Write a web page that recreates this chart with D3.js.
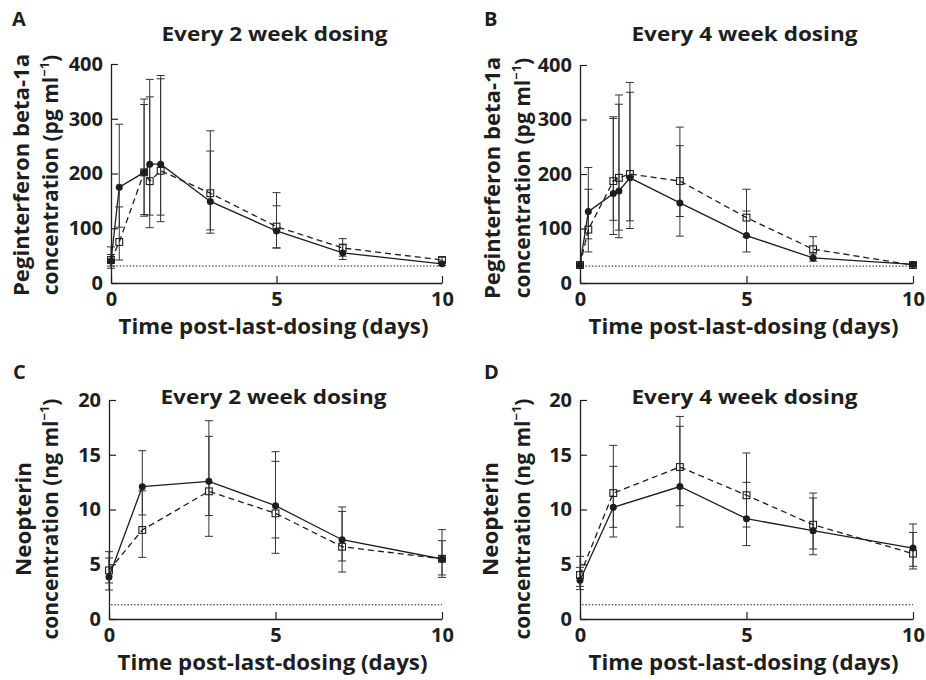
<!DOCTYPE html>
<html>
<head>
<meta charset="utf-8">
<script src="https://cdn.jsdelivr.net/npm/d3@7"></script>
<style>
  body { margin: 0; background: #fff; }
  svg { font-family: "Open Sans", sans-serif; font-weight: 700; }
</style>
</head>
<body>
<svg id="chart"></svg>
<script>
// time points (days after last dose)
const timesPeg = [0, 0.25, 1, 1.17, 1.5, 3, 5, 7, 10];
const timesNeo = [0, 1, 3, 5, 7, 10];

// A: peginterferon, every 2 weeks
const aSolidMean = [40, 175, 202, 217, 217, 149, 95, 55, 35];
const aSolidLow  = [31, 102, 122, 124, 124, 91, 64, 43, 32];
const aSolidHigh = [52, 290, 336, 372, 379, 241, 141, 71, 38];
const aDashMean  = [42, 75, 202, 186, 205, 164, 103, 64, 42];
const aDashLow   = [27, 42, 125, 101, 112, 97, 64, 49, 37];
const aDashHigh  = [66, 139, 326, 340, 373, 278, 165, 81, 47];

// B: peginterferon, every 4 weeks
const bSolidMean = [33, 131, 164, 169, 193, 147, 87, 46, 34];
const bSolidLow  = [30, 81, 89, 83, 100, 86, 57, 40, 31];
const bSolidHigh = [36, 212, 302, 345, 350, 252, 132, 53, 37];
const bDashMean  = [33, 98, 187, 193, 200, 187, 120, 62, 33];
const bDashLow   = [30, 57, 115, 97, 114, 122, 84, 45, 30];
const bDashHigh  = [36, 172, 305, 328, 368, 286, 172, 85, 37];

// C: neopterin, every 2 weeks
const cSolidMean = [3.84, 12.08, 12.57, 10.35, 7.24, 5.48];
const cSolidLow  = [2.65, 9.5, 9.45, 7.4, 5.3, 4.02];
const cSolidHigh = [5.57, 15.37, 16.68, 14.4, 9.83, 7.15];
const cDashMean  = [4.44, 8.13, 11.66, 9.65, 6.6, 5.5];
const cDashLow   = [3.29, 5.63, 7.55, 6.0, 4.29, 3.8];
const cDashHigh  = [6.15, 11.7, 18.11, 15.28, 10.23, 8.16];

// D: neopterin, every 4 weeks
const dSolidMean = [3.53, 10.2, 12.1, 9.16, 8.07, 6.48];
const dSolidLow  = [2.68, 7.49, 8.4, 6.7, 5.87, 4.81];
const dSolidHigh = [4.72, 13.94, 17.6, 12.48, 11.05, 8.68];
const dDashMean  = [4.02, 11.5, 13.88, 11.3, 8.61, 5.97];
const dDashLow   = [2.98, 8.37, 10.35, 8.4, 6.39, 4.57];
const dDashHigh  = [5.72, 15.86, 18.5, 15.16, 11.5, 7.9];

// lower limits of quantification (dotted lines)
const pegLloq = 31;
const neoLloq = 1.3;

const xTicks = [0, 5, 10];
const pegTicks = [0, 100, 200, 300, 400];
const neoTicks = [0, 5, 10, 15, 20];

const titles = ["Every 2 week dosing", "Every 4 week dosing"];
const xLabel = "Time post-last-dosing (days)";

const svg = d3.select("#chart").attr("width", 926).attr("height", 680);

function series(t, mean, lo, hi) {
  return t.map((d, i) => ({ t: d, m: mean[i], lo: lo[i], hi: hi[i] }));
}

const panels = [
  { letter: "A", title: titles[0], x0: 111, x1: 442, y0: 64, y1: 283, yMax: 400, ticks: pegTicks,
    lloq: pegLloq, lab1: "Peginterferon beta-1a", w1: 242, lab2: "(pg ml", lx: [29, 58], ly: 175,
    letterPos: [12, 26], titleY: 41,
    solid: series(timesPeg, aSolidMean, aSolidLow, aSolidHigh),
    dash: series(timesPeg, aDashMean, aDashLow, aDashHigh) },
  { letter: "B", title: titles[1], x0: 580, x1: 913, y0: 65, y1: 283, yMax: 400, ticks: pegTicks,
    lloq: pegLloq, lab1: "Peginterferon beta-1a", w1: 242, lab2: "(pg ml", lx: [500, 530], ly: 178,
    letterPos: [484, 26], titleY: 41,
    solid: series(timesPeg, bSolidMean, bSolidLow, bSolidHigh),
    dash: series(timesPeg, bDashMean, bDashLow, bDashHigh) },
  { letter: "C", title: titles[0], x0: 109, x1: 442, y0: 400, y1: 619, yMax: 20, ticks: neoTicks,
    lloq: neoLloq, lab1: "Neopterin", w1: 114, lab2: "(ng ml", lx: [31, 58], ly: 519,
    letterPos: [13, 379], titleY: 404,
    solid: series(timesNeo, cSolidMean, cSolidLow, cSolidHigh),
    dash: series(timesNeo, cDashMean, cDashLow, cDashHigh) },
  { letter: "D", title: titles[1], x0: 580, x1: 913, y0: 400, y1: 619, yMax: 20, ticks: neoTicks,
    lloq: neoLloq, lab1: "Neopterin", w1: 114, lab2: "(ng ml", lx: [498, 530], ly: 519,
    letterPos: [484, 379], titleY: 404,
    solid: series(timesNeo, dSolidMean, dSolidLow, dSolidHigh),
    dash: series(timesNeo, dDashMean, dDashLow, dDashHigh) }
];

const ink = "#1e1e1e";

panels.forEach(p => {
  const x = d3.scaleLinear().domain([0, 10]).range([p.x0, p.x1]);
  const y = d3.scaleLinear().domain([0, p.yMax]).range([p.y1, p.y0]);
  const g = svg.append("g");

  // letter + title
  g.append("text").attr("x", p.letterPos[0]).attr("y", p.letterPos[1])
    .attr("font-size", 20).attr("fill", ink).text(p.letter);
  g.append("text").attr("x", (p.x0 + p.x1) / 2 - 2).attr("y", p.titleY)
    .attr("text-anchor", "middle").attr("font-size", 20).attr("fill", ink)
    .attr("textLength", 226).attr("lengthAdjust", "spacingAndGlyphs").text(p.title);

  // axes, ticks point inwards
  const yAxis = d3.axisLeft(y).tickValues(p.ticks).tickSizeInner(-7).tickSizeOuter(0).tickPadding(8);
  const xAxis = d3.axisBottom(x).tickValues(xTicks).tickSizeInner(-7).tickSizeOuter(0).tickPadding(9);

  const ya = g.append("g").attr("transform", `translate(${p.x0},0)`).call(yAxis);
  const xa = g.append("g").attr("transform", `translate(0,${p.y1})`).call(xAxis);
  [ya, xa].forEach(a => {
    a.select(".domain").attr("stroke", ink).attr("stroke-width", 1.3);
    a.selectAll(".tick line").attr("stroke", ink).attr("stroke-width", 1.2);
    a.selectAll(".tick text").attr("font-size", 20).attr("fill", ink)
      .attr("font-family", "'Open Sans', sans-serif").attr("font-weight", 700);
  });

  // axis titles
  g.append("text").attr("x", (p.x0 + p.x1) / 2 - 3).attr("y", p.y1 + 51)
    .attr("text-anchor", "middle").attr("font-size", 22).attr("fill", ink)
    .attr("textLength", 310).attr("lengthAdjust", "spacingAndGlyphs").text(xLabel);

  g.append("text").attr("transform", `translate(${p.lx[0]},${p.ly}) rotate(-90)`)
    .attr("text-anchor", "middle").attr("font-size", 21).attr("fill", ink)
    .attr("textLength", p.w1).attr("lengthAdjust", "spacingAndGlyphs").text(p.lab1);
  const t2 = g.append("text").attr("transform", `translate(${p.lx[1]},${p.ly}) rotate(-90)`)
    .attr("text-anchor", "middle").attr("font-size", 21).attr("fill", ink);
  t2.append("tspan").text("concentration " + p.lab2);
  t2.append("tspan").attr("font-size", 13).attr("dy", -9).text("\u22121");
  t2.append("tspan").attr("dy", 9).text(")");

  // dotted LLOQ line
  g.append("line")
    .attr("x1", x(0) + 2).attr("x2", x(10))
    .attr("y1", y(p.lloq)).attr("y2", y(p.lloq))
    .attr("stroke", ink).attr("stroke-width", 1).attr("stroke-dasharray", "1.5,1.8");

  // error bars
  [p.solid, p.dash].forEach(s => {
    const eb = g.append("g").attr("stroke", "#333").attr("stroke-width", 1);
    s.forEach(d => {
      eb.append("line").attr("x1", x(d.t)).attr("x2", x(d.t)).attr("y1", y(d.lo)).attr("y2", y(d.hi));
      [d.lo, d.hi].forEach(v => {
        eb.append("line").attr("x1", x(d.t) - 4).attr("x2", x(d.t) + 4).attr("y1", y(v)).attr("y2", y(v));
      });
    });
  });

  // lines
  const line = d3.line().x(d => x(d.t)).y(d => y(d.m));
  g.append("path").datum(p.dash).attr("d", line).attr("fill", "none")
    .attr("stroke", ink).attr("stroke-width", 1.3).attr("stroke-dasharray", "6,4");
  g.append("path").datum(p.solid).attr("d", line).attr("fill", "none")
    .attr("stroke", ink).attr("stroke-width", 1.3);

  // markers
  g.selectAll(".sq").data(p.dash).enter().append("rect")
    .attr("x", d => x(d.t) - 3.4).attr("y", d => y(d.m) - 3.4)
    .attr("width", 6.8).attr("height", 6.8)
    .attr("fill", "none").attr("stroke", ink).attr("stroke-width", 1.1);
  g.selectAll(".dot").data(p.solid).enter().append("circle")
    .attr("cx", d => x(d.t)).attr("cy", d => y(d.m)).attr("r", 3.5).attr("fill", ink);
});
</script>
</body>
</html>
